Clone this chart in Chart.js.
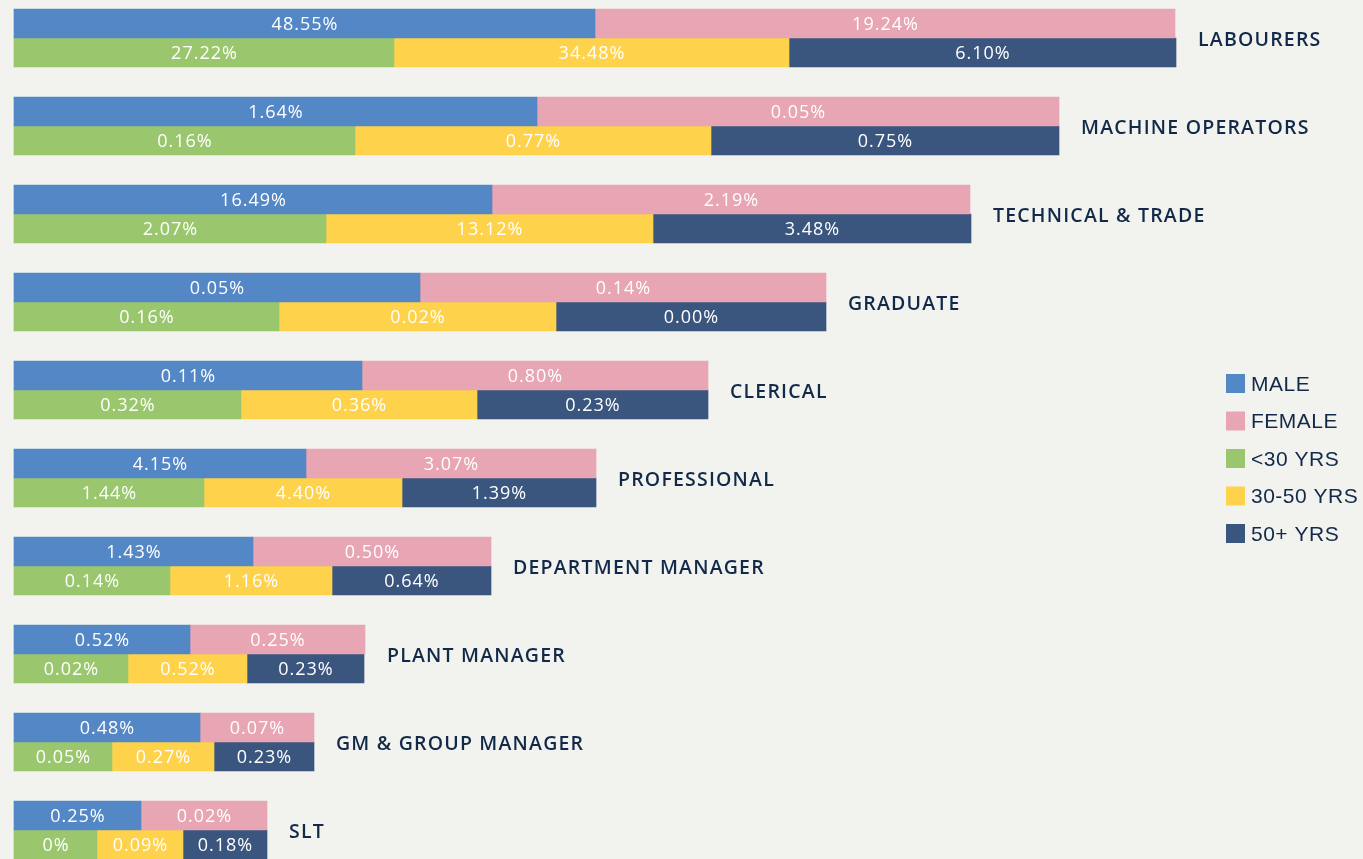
<!DOCTYPE html>
<html>
<head>
<meta charset="utf-8">
<script src="https://cdn.jsdelivr.net/npm/chart.js@4.4.0/dist/chart.umd.min.js"></script>
<style>
  html, body { margin: 0; padding: 0; background: #f2f3ee; }
  #wrap { position: relative; width: 1363px; height: 859px; }
</style>
</head>
<body>
<div id="wrap"><canvas id="roles"></canvas></div>
<script>
const roles = ['LABOURERS', 'MACHINE OPERATORS', 'TECHNICAL & TRADE', 'GRADUATE', 'CLERICAL',
  'PROFESSIONAL', 'DEPARTMENT MANAGER', 'PLANT MANAGER', 'GM & GROUP MANAGER', 'SLT'];
const seriesNames = ['MALE', 'FEMALE', '<30 YRS', '30-50 YRS', '50+ YRS'];

// drawn segment lengths (the infographic does not scale them to the printed %)
const maleLen = [581, 523, 478, 406, 348, 292, 239, 176, 186, 127];
const femaleLen = [580, 522, 478, 406, 346, 290, 238, 175, 114, 126];
const under30Len = [380, 341, 312, 265, 227, 190, 156, 114, 98, 83];
const mid30to50Len = [395, 356, 327, 277, 236, 198, 162, 119, 102, 86];
const over50Len = [387, 348, 318, 270, 231, 194, 159, 117, 100, 84];

// printed labels
const maleTxt = ['48.55%', '1.64%', '16.49%', '0.05%', '0.11%', '4.15%', '1.43%', '0.52%', '0.48%', '0.25%'];
const femaleTxt = ['19.24%', '0.05%', '2.19%', '0.14%', '0.80%', '3.07%', '0.50%', '0.25%', '0.07%', '0.02%'];
const under30Txt = ['27.22%', '0.16%', '2.07%', '0.16%', '0.32%', '1.44%', '0.14%', '0.02%', '0.05%', '0%'];
const mid30to50Txt = ['34.48%', '0.77%', '13.12%', '0.02%', '0.36%', '4.40%', '1.16%', '0.52%', '0.27%', '0.09%'];
const over50Txt = ['6.10%', '0.75%', '3.48%', '0.00%', '0.23%', '1.39%', '0.64%', '0.23%', '0.23%', '0.18%'];

const colors = ['#5387c6', '#e8a5b4', '#9ac76e', '#ffd24b', '#3a567e'];
const textColor = '#12294a';

const barText = {
  id: 'barText',
  afterDatasetsDraw(chart) {
    const ctx = chart.ctx;
    ctx.save();
    ctx.textBaseline = 'middle';

    // values inside segments
    ctx.font = '500 18px "Open Sans"';
    ctx.letterSpacing = '1px';
    ctx.fillStyle = '#ffffff';
    ctx.textAlign = 'center';
    chart.data.datasets.forEach((ds, i) => {
      chart.getDatasetMeta(i).data.forEach((bar, j) => {
        ctx.fillText(ds.texts[j], (bar.x + bar.base) / 2 + 0.5, bar.y + 1);
      });
    });

    // role names to the right of each pair
    ctx.font = '600 19.5px "Open Sans"';
    ctx.letterSpacing = '1.2px';
    ctx.fillStyle = textColor;
    ctx.textAlign = 'left';
    roles.forEach((r, j) => {
      const end = Math.max(chart.getDatasetMeta(1).data[j].x, chart.getDatasetMeta(4).data[j].x);
      ctx.fillText(r, end + 22, chart.scales.y.getPixelForValue(j) + 2);
    });

    // legend
    ctx.font = '21px "Liberation Sans"';
    ctx.letterSpacing = '0.5px';
    chart.data.datasets.forEach((ds, i) => {
      const top = 374 + i * 37.5;
      ctx.fillStyle = ds.backgroundColor;
      ctx.fillRect(1226, top, 19, 19);
      ctx.fillStyle = textColor;
      ctx.fillText(ds.label, 1251, top + 11);
    });
    ctx.restore();
  }
};

function makeSet(i, data, texts, stack) {
  return {
    label: seriesNames[i],
    data: data,
    texts: texts,
    stack: stack,
    backgroundColor: colors[i],
    borderWidth: 0,
    barThickness: 29,
    clip: false
  };
}

new Chart(document.getElementById('roles'), {
  type: 'bar',
  data: {
    labels: roles,
    datasets: [
      makeSet(0, maleLen, maleTxt, 'gender'),
      makeSet(1, femaleLen, femaleTxt, 'gender'),
      makeSet(2, under30Len, under30Txt, 'age'),
      makeSet(3, mid30to50Len, mid30to50Txt, 'age'),
      makeSet(4, over50Len, over50Txt, 'age')
    ]
  },
  options: {
    indexAxis: 'y',
    responsive: true,
    maintainAspectRatio: false,
    animation: false,
    layout: { padding: { left: 14, right: 0, top: 38, bottom: 29 } },
    scales: {
      x: { stacked: true, min: 0, max: 1349, display: false },
      y: { stacked: true, offset: false, display: false }
    },
    plugins: {
      legend: { display: false },
      tooltip: { enabled: false }
    }
  },
  plugins: [barText]
});
</script>
</body>
</html>
